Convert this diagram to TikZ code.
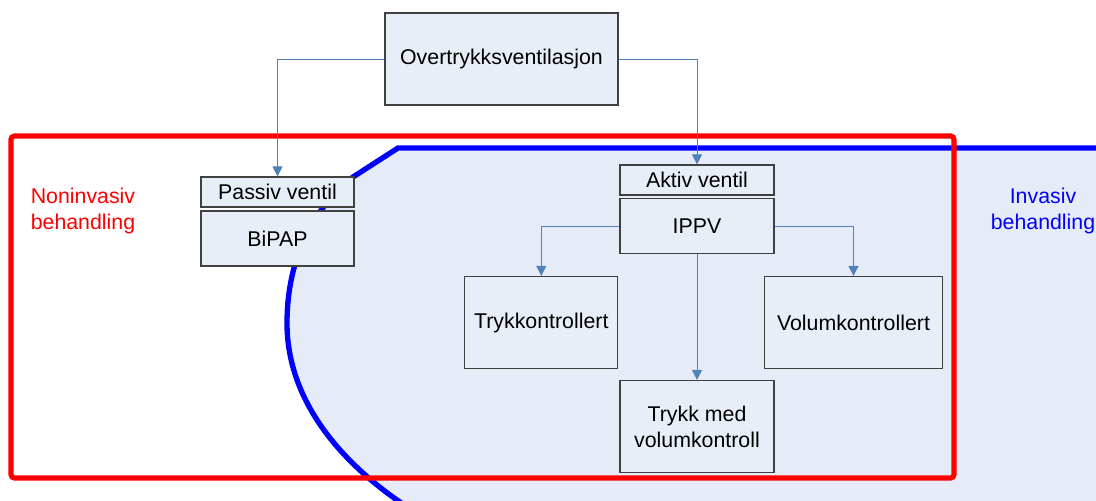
\documentclass[tikz,border=0pt]{standalone}
\usepackage{fontspec}
\setmainfont{Liberation Sans}
\usetikzlibrary{arrows.meta}
\definecolor{boxfill}{HTML}{E8EEF8}
\definecolor{zonefill}{HTML}{E6ECF7}
\definecolor{boxline}{HTML}{404040}
\definecolor{arrowblue}{HTML}{4F81BD}
\definecolor{myred}{HTML}{FF0000}
\definecolor{myblue}{HTML}{0000FF}

\begin{document}
\begin{tikzpicture}[x=0.75pt, y=-0.75pt,
		font=\fontsize{16}{19.5}\selectfont,
		box/.style={draw=boxline, line width=0.9pt, fill=boxfill, inner sep=0pt, align=center},
		conn/.style={draw=arrowblue, line width=0.75pt, -{Triangle[width=7.5pt,length=7.5pt]}}]
		%% page size as in the reference
		\useasboundingbox (0,0) rectangle (1096,500);
		\clip (0,0) rectangle (1096,500);
		%% invasive zone: filled first, thick blue outline, open to the right
		\fill[zonefill] (1110,148) -- (398,148) -- (353,177) .. controls (305,215) and (287,270) .. (287,323)
			.. controls (287,400) and (340,460) .. (397,500) -- (440,530) -- (1110,530) -- cycle;
		\draw[myblue, line width=4pt] (1110,148) -- (398,148) -- (353,177) .. controls (305,215) and (287,270) .. (287,323)
			.. controls (287,400) and (340,460) .. (397,500) -- (440,530);
		%% non-invasive frame
		\draw[myred, line width=3.8pt, rounded corners=2.5pt] (11,136) rectangle (954,478);
		\node[color=myred, align=center] (noninv) at (83,211) {Noninvasiv\\behandling};
		\node[color=myblue, align=center] (inv) at (1043,211) {Invasiv\\behandling};
		%% boxes
		\node[box, minimum width=174.75pt, minimum height=69pt] (overtrykk) at (501.5,59) {Overtrykksventilasjon};
		\node[box, minimum width=114.75pt, minimum height=22.5pt] (passiv) at (277.5,192) {Passiv ventil};
		\node[box, minimum width=114.75pt, minimum height=41.25pt] (bipap) at (277.5,238.5) {BiPAP};
		\node[box, minimum width=115.5pt, minimum height=22.5pt] (aktiv) at (697,180) {Aktiv ventil};
		\node[box, minimum width=115.5pt, minimum height=41.25pt] (ippv) at (697,226) {IPPV};
		\node[box, minimum width=114.75pt, minimum height=69pt] (trykk) at (541.3,322.5) {Trykkontrollert};
		\node[box, minimum width=133.5pt, minimum height=69pt] (volum) at (853.5,322.5) {Volumkontrollert};
		\node[box, minimum width=115.5pt, minimum height=69pt] (trykkvol) at (697,426.5) {Trykk med\\volumkontroll};
		%% connectors
		\draw[conn] (overtrykk.west) -| (passiv.north);
		\draw[conn] (overtrykk.east) -| (aktiv.north);
		\draw[conn] (ippv.west) -| (trykk.north);
		\draw[conn] (ippv.east) -| (volum.north);
		\draw[conn] (ippv.south) -- (trykkvol.north);
	\end{tikzpicture}
\end{document}
